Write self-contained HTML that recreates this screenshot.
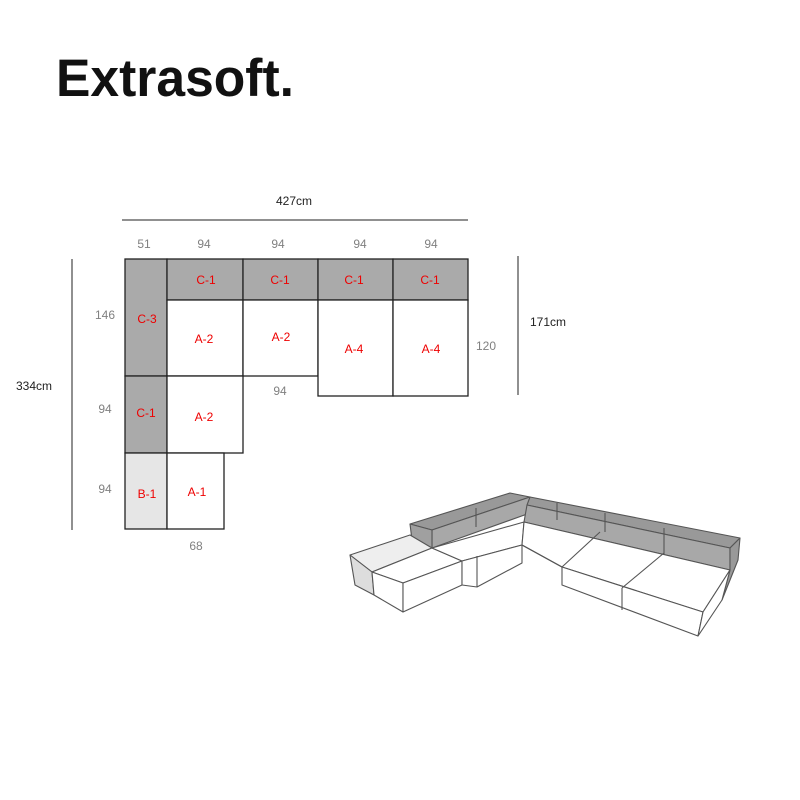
<!DOCTYPE html>
<html><head><meta charset="utf-8"><style>html,body{margin:0;padding:0;background:#fff}svg{display:block}</style></head>
<body>
<svg width="800" height="800" viewBox="0 0 800 800" xmlns="http://www.w3.org/2000/svg" font-family="Liberation Sans, sans-serif">
<text x="56" y="96" font-size="53" font-weight="bold" fill="#111" textLength="238" lengthAdjust="spacingAndGlyphs">Extrasoft.</text>

<text x="294" y="205" font-size="12" fill="#222" text-anchor="middle">427cm</text>
<line x1="122" y1="220" x2="468" y2="220" stroke="#222" stroke-width="1"/>
<g font-size="12" fill="#808080" text-anchor="middle">
<text x="144" y="248">51</text><text x="204" y="248">94</text><text x="278" y="248">94</text><text x="360" y="248">94</text><text x="431" y="248">94</text>
<text x="105" y="319">146</text><text x="105" y="413">94</text><text x="105" y="493">94</text>
<text x="304" y="345" fill="#999">94</text><text x="280" y="395">94</text><text x="196" y="550">68</text><text x="486" y="350">120</text>
</g>
<line x1="72" y1="259" x2="72" y2="530" stroke="#222"/>
<text x="34" y="390" font-size="12" fill="#222" text-anchor="middle">334cm</text>
<line x1="518" y1="256" x2="518" y2="395" stroke="#222"/>
<text x="548" y="326" font-size="12" fill="#222" text-anchor="middle">171cm</text>

<g stroke="#222" stroke-width="1.3">
<rect x="125" y="259" width="42" height="117" fill="#aaa"/>
<rect x="167" y="259" width="76" height="41" fill="#aaa"/>
<rect x="243" y="259" width="75" height="41" fill="#aaa"/>
<rect x="318" y="259" width="75" height="41" fill="#aaa"/>
<rect x="393" y="259" width="75" height="41" fill="#aaa"/>
<rect x="167" y="300" width="76" height="76" fill="#fff"/>
<rect x="243" y="300" width="75" height="76" fill="#fff"/>
<rect x="318" y="300" width="75" height="96" fill="#fff"/>
<rect x="393" y="300" width="75" height="96" fill="#fff"/>
<rect x="125" y="376" width="42" height="77" fill="#aaa"/>
<rect x="167" y="376" width="76" height="77" fill="#fff"/>
<rect x="125" y="453" width="42" height="76" fill="#e6e6e6"/>
<rect x="167" y="453" width="57" height="76" fill="#fff"/>
</g>
<g font-size="12" fill="#e00" text-anchor="middle">
<text x="206" y="284">C-1</text><text x="280" y="284">C-1</text><text x="354" y="284">C-1</text><text x="430" y="284">C-1</text>
<text x="147" y="323">C-3</text><text x="204" y="343">A-2</text><text x="281" y="341">A-2</text>
<text x="354" y="353">A-4</text><text x="431" y="353">A-4</text>
<text x="146" y="417">C-1</text><text x="204" y="421">A-2</text>
<text x="147" y="498">B-1</text><text x="197" y="496">A-1</text>
</g>

<g stroke="#555" stroke-width="1.1" stroke-linejoin="round">
<!-- back dark band -->
<polygon points="410,524 510,493 530,497 432,530" fill="#999"/>
<polygon points="432,530 530,497 530,513 432,548" fill="#a8a8a8"/>
<polygon points="410,524 432,530 432,548 412,540" fill="#a0a0a0"/>
<polygon points="530,497 740,538 730,548 527,505" fill="#999"/>
<polygon points="527,505 730,548 730,570 524,522" fill="#a8a8a8"/>
<polygon points="740,538 730,548 730,570 722,600 738,560" fill="#999"/>
<line x1="476" y1="508" x2="476" y2="527"/><line x1="557" y1="503" x2="557" y2="520"/><line x1="605" y1="513" x2="605" y2="532"/><line x1="664" y1="528" x2="664" y2="555"/>
<!-- arm B-1 -->
<polygon points="350,555 410,535 432,548 372,572" fill="#eee"/>
<polygon points="350,555 372,572 374,595 355,585" fill="#ddd"/>
<!-- seats -->
<polygon points="372,572 432,548 462,561 403,583" fill="#fff"/>
<polygon points="372,572 403,583 403,612 374,595" fill="#fff"/>
<polygon points="403,583 462,561 462,585 403,612" fill="#fff"/>
<polygon points="432,548 524,522 522,545 462,561" fill="#fff"/>
<polygon points="462,561 522,545 522,563 477,587 462,585" fill="#fff"/>
<polygon points="522,545 524,522 730,570 703,612 562,567" fill="#fff"/>
<polygon points="562,567 703,612 698,636 562,585" fill="#fff"/>
<polygon points="703,612 730,570 722,600 698,636" fill="#fff"/>
<line x1="522" y1="545" x2="562" y2="567"/>
<line x1="600" y1="532" x2="562" y2="567"/>
<line x1="664" y1="553" x2="622" y2="588"/>
<line x1="622" y1="588" x2="622" y2="610"/>
<line x1="477" y1="556" x2="477" y2="587"/>
</g>
</svg>
</body></html>
